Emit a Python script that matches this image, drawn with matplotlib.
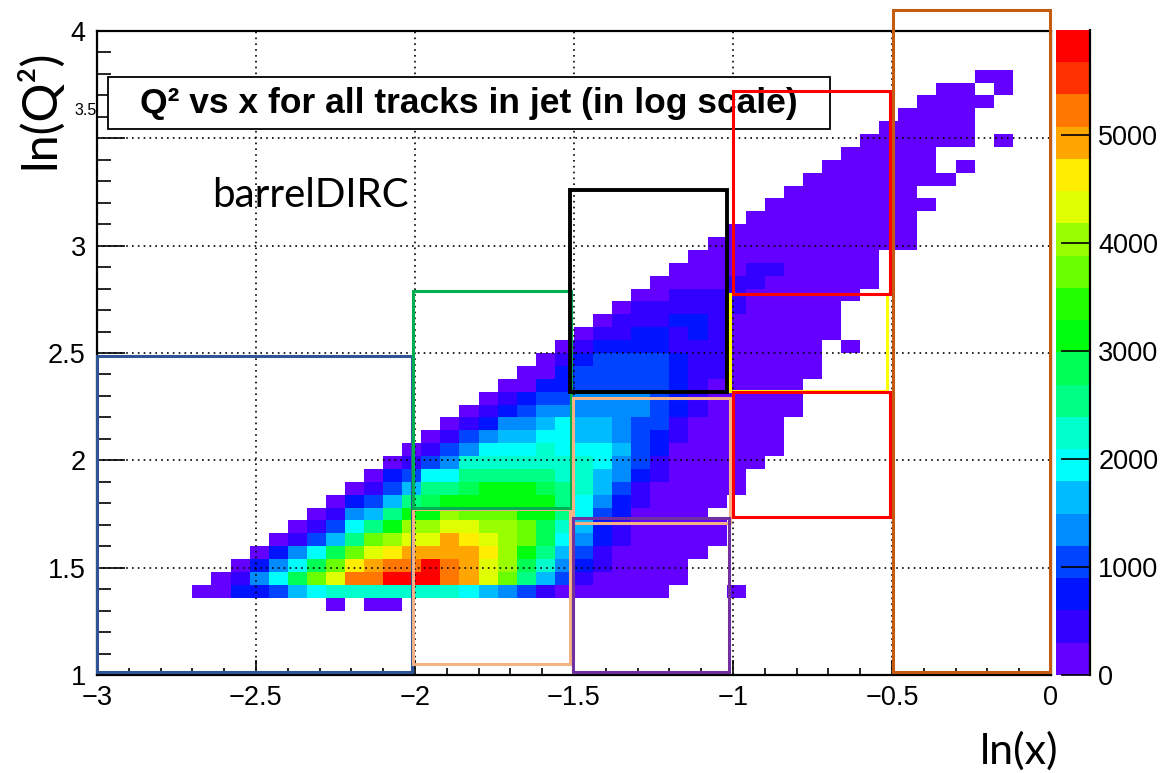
import numpy as np
import matplotlib
matplotlib.use('Agg')
import matplotlib.pyplot as plt
from matplotlib.colors import ListedColormap, BoundaryNorm
from matplotlib.patches import Rectangle
from matplotlib.lines import Line2D

# 2D histogram of ln(Q^2) vs ln(x): 50 x 50 bins
x_range = (-3.0, 0.0)
y_range = (1.0, 4.0)
n_bins = 50
n_levels = 20

# filled bins, one entry per ln(Q^2) row: row index, first x bin, bin contents
row_index = [5, 6, 7, 8, 9, 10, 11, 12, 13, 14, 15, 16, 17, 18, 19, 20, 21, 22, 23, 24, 25,
             26, 27, 28, 29, 30, 31, 32, 33, 34, 35, 36, 37, 38, 39, 40, 41, 42, 43, 44, 45, 46]
row_first_col = [12, 5, 6, 7, 8, 9, 10, 11, 12, 13, 14, 15, 16, 17, 18, 19, 20, 21, 22, 23, 24,
                 25, 26, 27, 28, 29, 30, 31, 32, 33, 34, 35, 36, 37, 38, 39, 40, 41, 42, 43, 44, 46]
row_counts = [
    [60, 0, 90, 70],
    [180, 260, 750, 780, 1050, 1650, 1950, 2250, 2300, 2280, 2260, 2250, 2240, 2230, 1950, 1650,
     1350, 1050, 450, 240, 200, 170, 150, 120, 90, 0, 0, 0, 30],
    [200, 450, 1350, 1950, 2850, 3750, 4350, 5250, 5300, 5800, 5975, 5850, 5200, 4900, 4300, 3700,
     2550, 1650, 1050, 450, 260, 220, 180, 120, 60],
    [220, 750, 1350, 1950, 2850, 3750, 4650, 4950, 5250, 5350, 5750, 5150, 4850, 4350, 4050, 2850,
     2250, 1350, 750, 450, 250, 200, 150, 80],
    [230, 750, 1350, 1950, 2850, 3750, 4350, 4650, 4950, 4900, 5000, 4850, 4600, 4050, 3150, 2550,
     1650, 1050, 450, 270, 230, 180, 120, 60],
    [240, 450, 1050, 1650, 2550, 3750, 4050, 4350, 4400, 4950, 4650, 4300, 4000, 3700, 2850, 1950,
     1350, 750, 450, 280, 240, 190, 130, 70],
    [250, 450, 1050, 1950, 2550, 3150, 4050, 4100, 4350, 4300, 4050, 4000, 3750, 2850, 2250, 1650,
     750, 450, 270, 230, 170, 110, 50],
    [250, 450, 1350, 1650, 2550, 3150, 3200, 4050, 3750, 3700, 3650, 3150, 3100, 2550, 1950, 1050,
     750, 260, 200, 140, 80],
    [260, 750, 1050, 1650, 2550, 2850, 3150, 3200, 3250, 3200, 3150, 3100, 2550, 1950, 1350, 750,
     450, 250, 200, 140, 70],
    [260, 450, 1050, 1650, 2550, 2600, 2850, 3150, 3200, 3150, 2850, 2550, 2250, 1650, 1050, 450,
     270, 220, 160, 100, 50],
    [270, 750, 1050, 1950, 2000, 2550, 2600, 2650, 2600, 2550, 2250, 2200, 1650, 1350, 750, 450,
     240, 180, 120, 60],
    [270, 450, 1050, 1350, 2250, 2300, 2300, 2250, 2250, 2300, 2250, 1950, 1350, 1050, 450, 260,
     210, 160, 100, 50],
    [270, 450, 1050, 1350, 1950, 2000, 1950, 2250, 1950, 1950, 1900, 1650, 1050, 750, 280, 230,
     180, 130, 80, 40],
    [270, 450, 1050, 1350, 1650, 1700, 1950, 2000, 1650, 1700, 1350, 1050, 750, 450, 250, 200,
     150, 90, 40],
    [270, 450, 750, 1350, 1400, 1650, 1950, 1650, 1600, 1350, 1050, 1000, 450, 260, 210, 160, 100, 50],
    [270, 450, 750, 1050, 1350, 1400, 1350, 1400, 1350, 1300, 1050, 750, 450, 270, 220, 170, 110, 50],
    [270, 450, 750, 1050, 1100, 1350, 1400, 1350, 1300, 1050, 750, 450, 260, 210, 160, 100, 50],
    [250, 280, 750, 800, 1050, 1100, 1050, 1100, 1050, 750, 450, 270, 220, 160, 100, 60],
    [240, 280, 750, 1050, 1100, 1050, 1050, 1000, 750, 450, 400, 270, 220, 160, 100, 50],
    [250, 450, 750, 1050, 1000, 1050, 950, 750, 450, 400, 270, 210, 150, 90, 40],
    [240, 450, 750, 800, 750, 700, 450, 400, 350, 260, 200, 140, 90, 40, 0, 30],
    [230, 450, 400, 750, 700, 450, 650, 400, 270, 220, 170, 120, 70, 30],
    [220, 400, 450, 400, 650, 700, 400, 270, 220, 170, 120, 70, 30],
    [210, 350, 380, 400, 420, 380, 330, 260, 200, 140, 80, 30],
    [200, 270, 330, 360, 340, 320, 270, 220, 160, 110, 60, 25],
    [190, 250, 280, 290, 320, 310, 260, 210, 160, 110, 60, 25],
    [180, 230, 270, 280, 310, 300, 240, 190, 140, 90, 40],
    [170, 220, 250, 270, 260, 230, 180, 130, 80, 35],
    [160, 210, 240, 250, 240, 210, 170, 120, 80, 45, 20],
    [150, 200, 230, 230, 210, 170, 130, 90, 50, 20],
    [140, 190, 210, 200, 170, 130, 90, 50, 20],
    [130, 170, 190, 180, 150, 110, 70, 40, 15],
    [120, 160, 170, 150, 110, 70, 30],
    [110, 150, 160, 140, 100, 60, 30, 10],
    [100, 130, 140, 110, 70, 30, 0, 8],
    [90, 120, 110, 70, 30],
    [80, 110, 100, 70, 40, 15, 0, 6],
    [70, 90, 70, 40, 15],
    [60, 70, 50, 20],
    [50, 60, 40, 15],
    [40, 35, 0, 10],
    [20, 12],
]

# selection boxes: (x0, x1, y0, y1, colour, linewidth)
boxes = [
    (-3.000, -2.008, 1.013, 2.484, '#2f5597', 2.2),
    (-2.005, -1.512, 1.050, 1.772, '#f4b183', 2.2),
    (-2.005, -1.510, 1.780, 2.790, '#00b050', 2.2),
    (-1.511, -1.020, 2.317, 3.260, 'black', 2.8),
    (-1.503, -1.009, 1.709, 2.288, '#f4b183', 2.2),
    (-1.502, -1.011, 1.013, 1.733, '#7030a0', 2.2),
    (-1.010, -0.517, 2.322, 2.773, '#ffff00', 2.2),
    (-0.999, -0.505, 2.776, 3.720, '#ff0000', 2.2),
    (-0.999, -0.505, 1.738, 2.320, '#ff0000', 2.2),
    (-0.497, -0.003, 1.014, 4.100, '#c55a11', 2.2),
]


def root_pretty_palette(n):
    # ROOT "pretty palette" (violet -> red), 50 HLS colours sampled onto n contours
    def channel(h):
        h = h % 360
        if h < 60:
            return h / 60
        if h < 180:
            return 1.0
        if h < 240:
            return (240 - h) / 60
        return 0.0
    cols = []
    for k in range(n):
        p = int((k + 0.99) * 50 / n)
        hue = 280 - (p + 1) * 5.6
        cols.append((channel(hue + 120), channel(hue), channel(hue - 120)))
    return cols


hist = np.zeros((n_bins, n_bins))
for j, c0, vals in zip(row_index, row_first_col, row_counts):
    hist[j, c0:c0 + len(vals)] = vals
hist = np.ma.masked_equal(hist, 0)

zmax = hist.max()
cmap = ListedColormap(root_pretty_palette(n_levels))
norm = BoundaryNorm(np.linspace(0, zmax, n_levels + 1), n_levels)

xedges = np.linspace(*x_range, n_bins + 1)
yedges = np.linspace(*y_range, n_bins + 1)

plt.rcParams['font.family'] = ['Liberation Sans', 'DejaVu Sans']
fig = plt.figure(figsize=(11.68, 7.73), dpi=100)
ax = fig.add_axes([0.0830, 0.1268, 0.8168, 0.8331])
cax = fig.add_axes([0.9041, 0.1268, 0.0291, 0.8344])

mesh = ax.pcolormesh(xedges, yedges, hist, cmap=cmap, norm=norm, zorder=1)
ax.set_xlim(*x_range)
ax.set_ylim(*y_range)

ax.set_xticks(np.arange(-3, 0.01, 0.5))
ax.set_xticks(np.arange(-3, 0.01, 0.1), minor=True)
ax.set_yticks(np.arange(1, 4.01, 0.5))
ax.set_yticks(np.arange(1, 4.01, 0.1), minor=True)
ax.set_xticklabels(['\u22123', '\u22122.5', '\u22122', '\u22121.5', '\u22121', '\u22120.5', '0'])
# the 3.5 label sits squeezed next to the axis title, drawn separately below
ax.set_yticklabels(['1', '1.5', '2', '2.5', '3', '', '4'])
ax.tick_params(axis='x', which='major', direction='in', length=11, width=1.2,
               labelsize=19.5, pad=7)
ax.tick_params(axis='x', which='minor', direction='in', length=5, width=1.2)
ax.tick_params(axis='y', which='major', direction='in', length=20, width=1.2,
               labelsize=19.5, pad=8)
ax.tick_params(axis='y', which='minor', direction='in', length=10, width=1.2)
for s in ax.spines.values():
    s.set_linewidth(1.6)

ax.grid(True, which='major', color='black', linestyle=(0, (1, 2.5)), linewidth=1.2)
ax.set_axisbelow(False)

# title pave
ax.add_patch(Rectangle((0.0115, 0.848), 0.7565, 0.0806, transform=ax.transAxes,
                       facecolor='white', edgecolor='black', linewidth=1.3, zorder=6))
ax.text(0.390, 0.887, 'Q\u00b2 vs x for all tracks in jet (in log scale)', transform=ax.transAxes,
        ha='center', va='center', fontsize=25.5, fontweight='bold', zorder=7)

# selection boxes drawn over everything in the frame
for x0, x1, y0, y1, col, lw in boxes:
    ax.add_patch(Rectangle((x0, y0), x1 - x0, y1 - y0, fill=False, edgecolor=col,
                           linewidth=lw, zorder=8, clip_on=False))

ax.text(0.224, 0.745, 'barrelDIRC', transform=ax.transAxes, ha='center', va='center',
        fontsize=29, family=['Lato', 'DejaVu Sans'], zorder=6)

fig.text(0.0334, 0.859, 'ln(Q\u00b2)', rotation=90, ha='center', va='center', fontsize=35,
         family=['Lato', 'DejaVu Sans'])
fig.text(97 / 1168, 1 - 110.5 / 773, '3.5', ha='right', va='center', fontsize=11.5)
fig.text(0.8724, 0.0116, 'ln(x)', ha='center', va='baseline', fontsize=31,
         family=['Lato', 'DejaVu Sans'])

cb = fig.colorbar(mesh, cax=cax)
cb.outline.set_visible(False)
cb.set_ticks([0, 1000, 2000, 3000, 4000, 5000])
cb.set_ticklabels(['0', '1000', '2000', '3000', '4000', '5000'])
cax.tick_params(axis='y', which='major', direction='in', length=21, width=1.2,
                labelsize=19.5, pad=6, right=True, left=False)
cax.minorticks_off()
cax.add_line(Line2D([1, 1], [0, 1], transform=cax.transAxes, color='black', linewidth=1.6,
                    clip_on=False))

fig.savefig('out.png', dpi=100)
